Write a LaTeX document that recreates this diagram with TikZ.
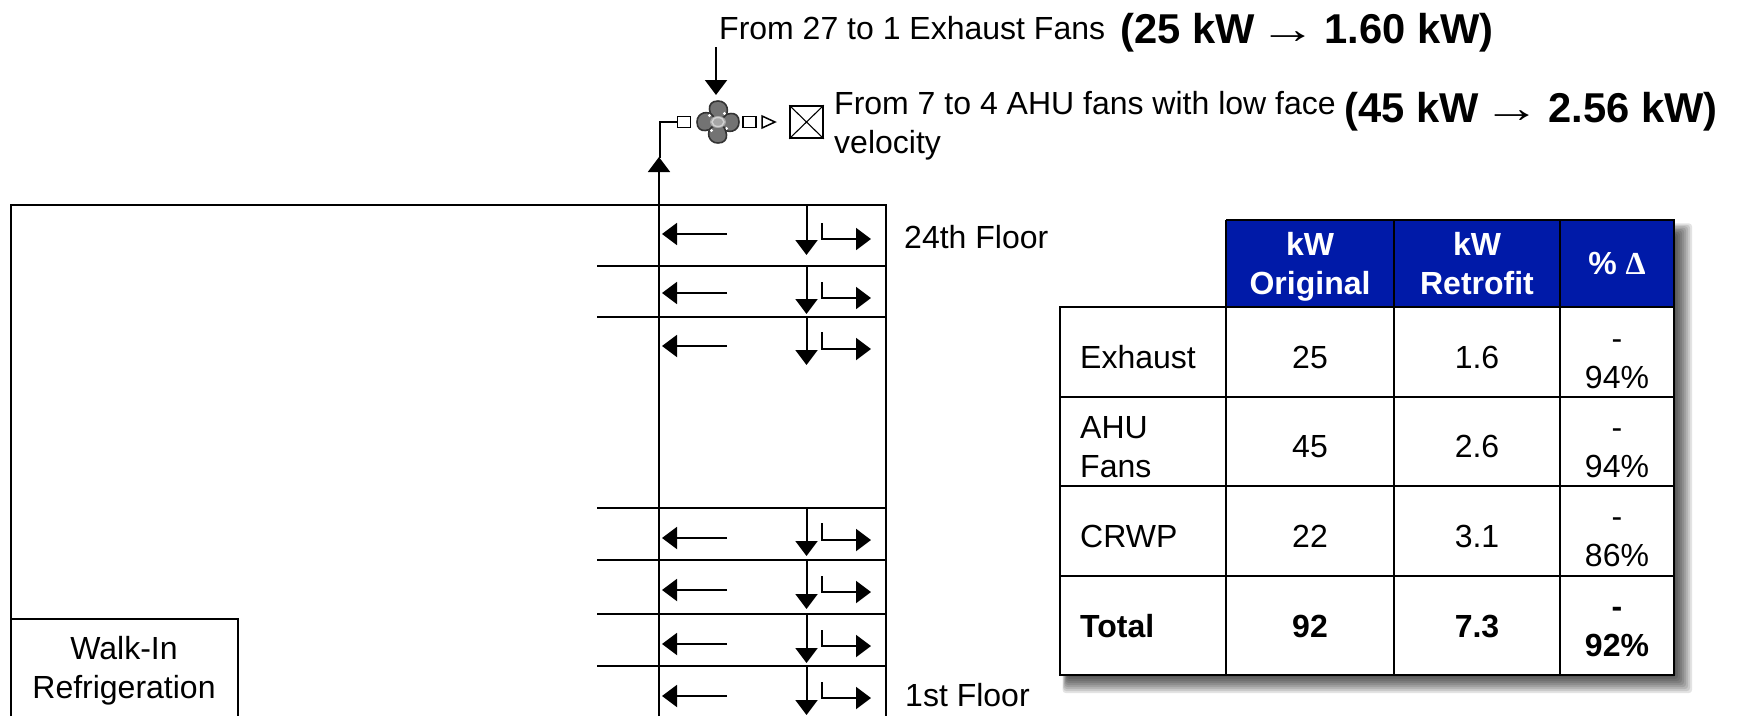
\documentclass[tikz,border=0pt]{standalone}
\usepackage{fontspec}
\usepackage{graphicx}
\setmainfont{Liberation Sans}
\newfontfamily\deltafont{Liberation Serif}
\usetikzlibrary{arrows.meta}
\definecolor{hdrblue}{RGB}{0,26,168}
\newcommand{\longarr}{\hspace{-7pt}\scalebox{1.37}[1]{→}\hspace{-3.5pt}}
\tikzset{
  x=1pt,y=-1pt,
  line/.style={draw=black,line width=2pt},
  tline/.style={draw=black,line width=2.2pt},
  arr/.style={line,-{Triangle[length=15pt,width=22pt]}},
  txt/.style={anchor=base west,inner sep=0pt,font=\fontsize{32}{38}\selectfont},
  big/.style={anchor=base west,inner sep=0pt,font=\fontsize{41.7}{46}\selectfont\bfseries},
  cell/.style={anchor=base,inner sep=0pt,font=\fontsize{32}{38}\selectfont},
  bcell/.style={anchor=base,inner sep=0pt,font=\fontsize{32}{38}\selectfont\bfseries},
  hcell/.style={anchor=base,inner sep=0pt,text=white,font=\fontsize{32}{38}\selectfont\bfseries},
}
\begin{document}
\begin{tikzpicture}
\useasboundingbox (0,0) rectangle (1737,716);
% table shadow: soft, nested L-shapes from faint to dark
\foreach \o in {18,16,...,0}{
  \fill[black,opacity=0.11,rounded corners=3pt]
    (1240-\o*0.3,236-\o*0.7) -- (1674+\o,236-\o*0.7) -- (1674+\o,675+\o)
    -- (1068-\o*0.3,675+\o) -- (1068-\o*0.3,320) -- (1240-\o*0.3,320) -- cycle;
}
% table
\fill[hdrblue] (1226,220) rectangle (1674,307);
\fill[white] (1060,307) rectangle (1674,675);
\coordinate (tA) at (1226,220); \coordinate (tB) at (1394,220);
\coordinate (tC) at (1560,220); \coordinate (tD) at (1674,220);
\coordinate (bO) at (1060,675); \coordinate (bA) at (1226,675);
\coordinate (bB) at (1394,675); \coordinate (bC) at (1560,675);
\coordinate (bD) at (1674,675); \coordinate (hO) at (1060,307);
\draw[tline] (tA)--(tD)--(bD)--(bO)--(hO)--(tA|-hO);
\draw[tline] (tA)--(bA) (tB)--(bB) (tC)--(bC) (hO)--(tD|-hO);
\foreach \ry in {397,486,576}{
  \coordinate (rl) at (1060,\ry); \coordinate (rr) at (1674,\ry);
  \draw[tline] (rl)--(rr);
}
% table text
\node[hcell] (h1a) at (1310,255) {kW};
\node[hcell] (h1b) at (1310,294) {Original};
\node[hcell] (h2a) at (1477,255) {kW};
\node[hcell] (h2b) at (1477,294) {Retrofit};
\node[hcell] (h3) at (1617,274) {\% {\deltafont Δ}};
\node[txt] (r1) at (1080,368) {Exhaust};
\node[cell] (r1a) at (1310,368) {25};
\node[cell] (r1b) at (1477,368) {1.6};
\node[cell] (r1c) at (1617,349) {-};
\node[cell] (r1d) at (1617,388) {94\%};
\node[txt] (r2) at (1080,438) {AHU};
\node[txt] (r2x) at (1080,477) {Fans};
\node[cell] (r2a) at (1310,457) {45};
\node[cell] (r2b) at (1477,457) {2.6};
\node[cell] (r2c) at (1617,438) {-};
\node[cell] (r2d) at (1617,477) {94\%};
\node[txt] (r3) at (1080,547) {CRWP};
\node[cell] (r3a) at (1310,547) {22};
\node[cell] (r3b) at (1477,547) {3.1};
\node[cell] (r3c) at (1617,527) {-};
\node[cell] (r3d) at (1617,566) {86\%};
\node[txt,font=\fontsize{32}{38}\selectfont\bfseries] (r4) at (1080,637) {Total};
\node[bcell] (r4a) at (1310,637) {92};
\node[bcell] (r4b) at (1477,637) {7.3};
\node[bcell] (r4c) at (1617,617) {-};
\node[bcell] (r4d) at (1617,656) {92\%};
% building
\coordinate (bl) at (11,716); \coordinate (tl) at (11,205);
\coordinate (tr) at (886,205); \coordinate (br) at (886,716);
\coordinate (sb) at (659,716); \coordinate (st) at (659,157);
\draw[line] (bl)--(tl)--(tr)--(br);
\draw[line] (sb)--(659,205);
\draw[arr] (659,205)--(st);
% floors
\foreach \i/\ly/\ay/\tip/\bt/\by in {
  1/205/234/255/223/239,
  2/266/293/314/282/298,
  3/317/346/365/332/349,
  4/508/538/556/523/540,
  5/560/590/609/576/592,
  6/614/644/663/630/646,
  7/666/696/715/682/698}{
  \coordinate (fl\i) at (597,\ly); \coordinate (fr\i) at (886,\ly);
  \coordinate (al\i) at (727,\ay); \coordinate (at\i) at (662,\ay);
  \coordinate (ds\i) at (806.5,\ly); \coordinate (dt\i) at (806.5,\tip);
  \coordinate (bs\i) at (822,\bt); \coordinate (bc\i) at (822,\by); \coordinate (bt\i) at (871,\by);
  \ifnum\i>1 \draw[line] (fl\i)--(fr\i); \fi
  \draw[arr] (al\i)--(at\i);
  \draw[arr] (ds\i)--(dt\i);
  \draw[arr] (bs\i)--(bc\i)--(bt\i);
}
% walk-in
\coordinate (wl) at (11,619); \coordinate (wr) at (238,619); \coordinate (wb) at (238,716);
\draw[line] (wl)--(wr)--(wb);
\node[cell] (w1) at (124,659) {Walk-In};
\node[cell] (w2) at (124,698) {Refrigeration};
% exhaust train
\coordinate (up) at (660,158); \coordinate (k) at (660,122);
\node[draw,line width=1.5pt,minimum width=13pt,minimum height=11pt,inner sep=0pt] (s1) at (684,122) {};
\draw[line] (up)--(k)--(s1.west);
\begin{scope}[shift={(718,122)}]
  \foreach \r in {0,90,180,270}{
    \filldraw[rotate=\r,fill=gray!90!black,draw=black!80,line width=1.6pt]
      (1,-2) .. controls (6,-9) and (21,-13) .. (21,0)
             .. controls (21,10) and (9,12) .. (5,6) -- cycle;
    \fill[rotate=\r,white] (8.5,6.5) circle (1.7);
  }
  \fill[gray!70] (0,0) ellipse (8 and 6);
  \draw[gray!35,line width=1.4pt] (0,0) ellipse (6 and 4.5);
\end{scope}
\node[draw,line width=1.5pt,minimum width=13pt,minimum height=11pt,inner sep=0pt] (s2) at (749.5,122) {};
\coordinate (p1) at (762,116); \coordinate (p2) at (775,122); \coordinate (p3) at (762,128);
\draw[line width=1.5pt,line join=miter] (p1)--(p2)--(p3)--cycle;
\node[draw,line width=1.5pt,minimum width=33pt,minimum height=32pt,inner sep=0pt] (xb) at (806.5,122) {};
\draw[line width=1.1pt] (xb.north west)--(xb.south east) (xb.north east)--(xb.south west);
\coordinate (dn0) at (716,47); \coordinate (dn1) at (716,95);
\draw[arr] (dn0)--(dn1);
% labels
\node[txt] (t1) at (719,39) {From 27 to 1 Exhaust Fans};
\node[big] (t2) at (1120,43) {(25 kW \longarr{} 1.60 kW)};
\node[txt] (t3) at (834,114) {From 7 to 4 AHU fans with low face};
\node[txt] (t4) at (834,153) {velocity};
\node[big] (t5) at (1344,122) {(45 kW \longarr{} 2.56 kW)};
\node[txt] (f24) at (904,248) {24th Floor};
\node[txt] (f1) at (905,706) {1st Floor};
\end{tikzpicture}
\end{document}
